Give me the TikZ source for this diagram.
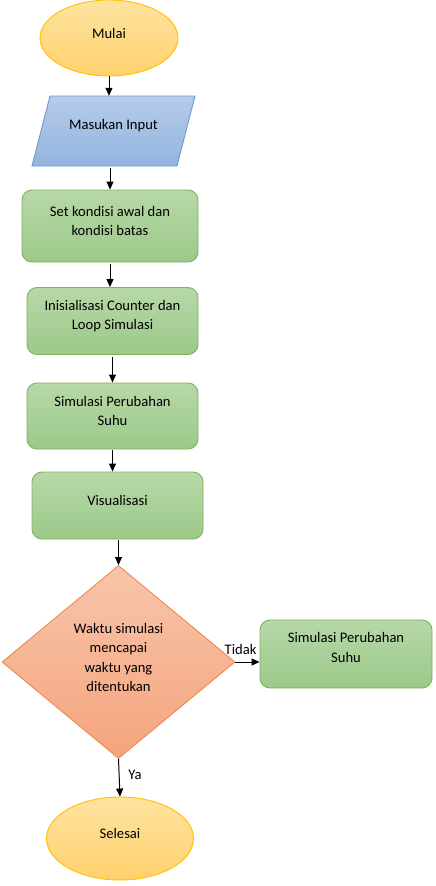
\documentclass[tikz,border=0pt]{standalone}
\usepackage{fontspec}
\setmainfont{Carlito}
\usetikzlibrary{shapes.geometric,arrows.meta}
\definecolor{goldB}{HTML}{FFC000}
\definecolor{goldT}{HTML}{FEE3A0}
\definecolor{goldD}{HTML}{FFD16C}
\definecolor{blueB}{HTML}{6A9BD4}
\definecolor{blueT}{HTML}{B6CBEA}
\definecolor{blueD}{HTML}{94B4DF}
\definecolor{greenB}{HTML}{7DB35A}
\definecolor{greenT}{HTML}{B7D8A8}
\definecolor{greenD}{HTML}{9CC989}
\definecolor{oranB}{HTML}{EE8A4E}
\definecolor{oranT}{HTML}{F8C5AB}
\definecolor{oranD}{HTML}{F4A47C}
\tikzset{
  txt/.style={font=\fontsize{14.6}{19.6}\selectfont, align=center, inner sep=0pt},
  term/.style={ellipse, draw=goldB, line width=0.9pt, top color=goldT, bottom color=goldD, inner sep=0pt},
  procbox/.style={rectangle, rounded corners=10pt, draw=greenB, line width=0.9pt, top color=greenT, bottom color=greenD, inner sep=0pt},
  decbox/.style={diamond, draw=oranB, line width=0.9pt, top color=oranT, bottom color=oranD, inner sep=0pt, minimum width=233pt, minimum height=193pt},
  arr/.style={-{Triangle[length=8pt,width=7pt]}, line width=1pt, black},
}
\begin{document}
\begin{tikzpicture}[x=1pt,y=-1pt]
\useasboundingbox (0,0) rectangle (436,886);
% start
\node[term, minimum width=138pt, minimum height=76pt] (mulai) at (109,38) {};
\node[txt] (tmulai) at ([yshift=5pt]mulai.center) {Mulai};
% input parallelogram
\draw[draw=blueB, line width=0.9pt, top color=blueT, bottom color=blueD] (50,96) -- (195,96) -- (177,166) -- (32,166) -- cycle;
\node[minimum width=145pt, minimum height=70pt, inner sep=0pt] (input) at (113.5,131) {};
\node[txt] (tinput) at ([yshift=5pt]input.center) {Masukan Input};
% process boxes
\node[procbox, minimum width=176pt, minimum height=72pt] (b1) at (110,226) {};
\node[txt] (tb1) at ([yshift=5pt]b1.center) {Set kondisi awal dan\\kondisi batas};
\node[procbox, minimum width=171pt, minimum height=67pt] (b2) at (112.5,321) {};
\node[txt] (tb2) at ([yshift=5pt]b2.center) {Inisialisasi Counter dan\\Loop Simulasi};
\node[procbox, minimum width=171pt, minimum height=66pt] (b3) at (112.5,416) {};
\node[txt] (tb3) at ([yshift=5pt]b3.center) {Simulasi Perubahan\\Suhu};
\node[procbox, minimum width=171pt, minimum height=67pt] (b4) at (117.5,505.5) {};
\node[txt] (tb4) at ([yshift=5pt]b4.center) {Visualisasi};
% decision
\node[decbox] (dec) at (118.5,662) {};
\node[txt] (tdec) at ([yshift=4.5pt]dec.center) {Waktu simulasi\\mencapai\\waktu yang\\ditentukan};
\node[procbox, minimum width=172pt, minimum height=68pt] (b5) at (346,654) {};
\node[txt] (tb5) at ([yshift=6.5pt]b5.center) {Simulasi Perubahan\\Suhu};
% end
\node[term, minimum width=147pt, minimum height=83pt] (selesai) at (120,838.5) {};
\node[txt] (tselesai) at ([yshift=5pt]selesai.center) {Selesai};
% connectors
\draw[arr] (mulai.south) -- (mulai.south |- input.north);
\draw[arr] ([yshift=-2pt]b1.north |- input.south) -- (b1.north);
\draw[arr] ([yshift=-2pt]b1.south) -- (b1.south |- b2.north);
\draw[arr] ([yshift=-2pt]b2.south) -- (b2.south |- b3.north);
\draw[arr] ([yshift=-1pt]b3.south) -- (b3.south |- b4.north);
\draw[arr] ([yshift=-1pt]dec.north |- b4.south) -- (dec.north);
\draw[arr] (dec.east) -- (b5.west |- dec.east);
\draw[arr] (dec.south) -- (selesai.north);
% labels
\node[txt, anchor=south west] (ltidak) at ([xshift=-11pt,yshift=7pt]dec.east) {Tidak};
\node[txt] (lya) at (135,775) {Ya};
\end{tikzpicture}
\end{document}
